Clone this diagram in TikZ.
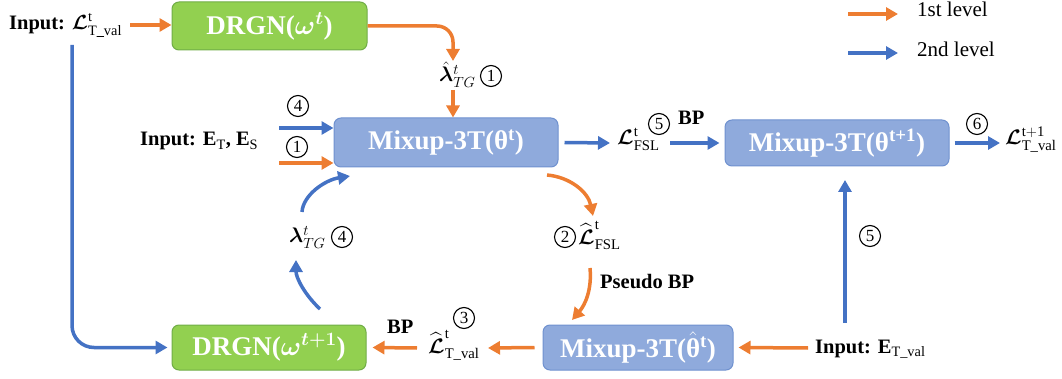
\RequirePackage{fix-cm}
\documentclass[tikz,border=0pt]{standalone}
\usepackage{amsmath,bm}
\usepackage{fontspec}
\setmainfont{Liberation Serif}
\usetikzlibrary{arrows.meta,calc}
\definecolor{org}{HTML}{ED7D31}
\definecolor{blu}{HTML}{4472C4}
\definecolor{gfill}{HTML}{92D050}
\definecolor{gdraw}{HTML}{70AD47}
\definecolor{bfill}{HTML}{8FAADC}
\definecolor{bdraw}{HTML}{6F91CF}
\newcommand{\LL}{\boldsymbol{\mathcal{L}}}
\begin{document}
\begin{tikzpicture}[x=1pt,y=-1pt,
  oarr/.style={draw=org,line width=3.5pt,-{Triangle[length=12pt,width=13pt]}},
  barr/.style={draw=blu,line width=3.5pt,-{Triangle[length=12pt,width=13pt]}},
  gbox/.style={draw=gdraw,fill=gfill,line width=1pt,rounded corners=7pt,text=white,
     font=\bfseries\fontsize{27}{30}\selectfont,inner sep=0pt},
  bbox/.style={draw=bdraw,fill=bfill,line width=1pt,rounded corners=7pt,text=white,
     font=\bfseries\fontsize{27}{30}\selectfont,inner sep=0pt},
  lbl/.style={inner sep=0pt,font=\bfseries\fontsize{20.5}{24}\selectfont},
  mlbl/.style={inner sep=0pt,font=\fontsize{21}{24}\selectfont},
  cnum/.style={circle,draw=black,line width=1.1pt,inner sep=0pt,minimum size=21pt,
     font=\fontsize{17}{18}\selectfont},
  leg/.style={inner sep=0pt,anchor=base west,font=\fontsize{21}{24}\selectfont}]
\useasboundingbox (0,0) rectangle (1062,379);
% boxes
\node[gbox,minimum width=195pt,minimum height=48pt] (g1) at (269.5,26) {DRGN($\boldsymbol{\omega^{t}}$)};
\node[bbox,minimum width=224pt,minimum height=49pt] (b1) at (446,142.5) {Mixup-3T(θ\textsuperscript{t})};
\node[bbox,minimum width=224pt,minimum height=46pt] (b2) at (837,143) {Mixup-3T(θ\textsuperscript{t+1})};
\node[bbox,minimum width=190pt,minimum height=45pt] (b3) at (638,347.5) {Mixup-3T($\hat{\text{θ}}$\textsuperscript{t})};
\node[gbox,minimum width=194pt,minimum height=45pt] (g2) at (269,347.5) {DRGN($\boldsymbol{\omega^{t+1}}$)};
% labels
\node[lbl,anchor=base west] (in1) at (9,30) {Input: $\LL^{\mathrm{t}}_{\mathrm{T\_val}}$};
\node[mlbl,anchor=base west] (lamhat) at (439,82) {${\hat{\boldsymbol{\lambda}}}^{t}_{TG}$};
\node[cnum] (c1t) at (491,76) {1};
\node[lbl,anchor=base west] (inE) at (140,146) {Input: E\textsubscript{\mdseries T}, E\textsubscript{\mdseries S}};
\node[cnum] (c4a) at (298,106) {4};
\node[cnum] (c1a) at (297,147) {1};
\node[mlbl,anchor=base west] (LFSL) at (617,145) {$\LL^{\mathrm{t}}_{\mathrm{FSL}}$};
\node[cnum] (c5a) at (659,124) {5};
\node[lbl,anchor=base west] (bp1) at (678,125) {BP};
\node[cnum] (c6) at (977,124) {6};
\node[mlbl,anchor=base west] (Lval) at (1005,145) {$\LL^{\mathrm{t+1}}_{\mathrm{T\_val}}$};
\node[cnum] (c5b) at (870,236) {5};
\node[lbl,anchor=base west] (inEval) at (815,353) {Input: E\textsubscript{\mdseries T\_val}};
\node[mlbl,anchor=base west] (Lhat) at (428,353) {${\widehat{\LL}}^{\mathrm{t}}_{\mathrm{T\_val}}$};
\node[cnum] (c3) at (464,318) {3};
\node[lbl,anchor=base west] (bp2) at (387,333) {BP};
\node[mlbl,anchor=base west] (lam4) at (289,243) {$\boldsymbol{\lambda}^{t}_{TG}$};
\node[cnum] (c4b) at (342,237) {4};
\node[cnum] (c2) at (565,237) {2};
\node[mlbl,anchor=base west] (L2hat) at (578,244) {${\widehat{\LL}}^{\mathrm{t}}_{\mathrm{FSL}}$};
\node[lbl,anchor=base west] (pbp) at (600,288) {Pseudo BP};
% legend
\coordinate (lo1) at (848,14); \coordinate (lo2) at (898,14);
\coordinate (lb1) at (848,53); \coordinate (lb2) at (898,53);
\draw[oarr] (lo1) -- (lo2);
\draw[barr] (lb1) -- (lb2);
\node[leg] (t1) at (917,17) {1st level};
\node[leg] (t2) at (917,57) {2nd level};
% connectors
\coordinate (k1) at (453,61);
\coordinate (k2) at (453,90);
\coordinate (s4) at (279,128);
\coordinate (s1) at (279,163);
\coordinate (q0) at (72,45);
\coordinate (a0) at (130,25);
\draw[oarr] (a0) -- (a0 -| g1.west);
\draw[oarr,rounded corners=16pt] (g1.east) -| (k1);
\draw[oarr] (k2) -- (k2 |- b1.north);
\draw[barr] (s4) -- (s4 -| b1.west);
\draw[oarr] (s1) -- (s1 -| b1.west);
\draw[barr] ($(b1.east)+(6,0)$) -- (610,143);
\draw[barr] (670,143) -- ($(b2.west)+(-5,0)$);
\draw[barr] ($(b2.east)+(5,0)$) -- (1000,143);
\coordinate (v0) at (845,323);
\draw[barr] (v0) -- (845,180);
\draw[oarr] (808,348) -- ($(b3.east)+(5,0)$);
\draw[oarr] ($(b3.west)+(-8,0)$) -- (488,348);
\draw[oarr] (417,348) -- ($(g2.east)+(6,0)$);
\draw[barr,rounded corners=22pt] (q0) |- ($(g2.west)+(-4,0)$);
\draw[barr] (302,212) .. controls (303,195) and (325,180) .. (350,176);
\draw[barr] (320,309) .. controls (305,295) and (296,278) .. (296,260);
\draw[oarr] (547,175) .. controls (570,177) and (588,192) .. (593,216);
\draw[oarr] (590,268) .. controls (592,290) and (585,305) .. (572,320);
\end{tikzpicture}
\end{document}
